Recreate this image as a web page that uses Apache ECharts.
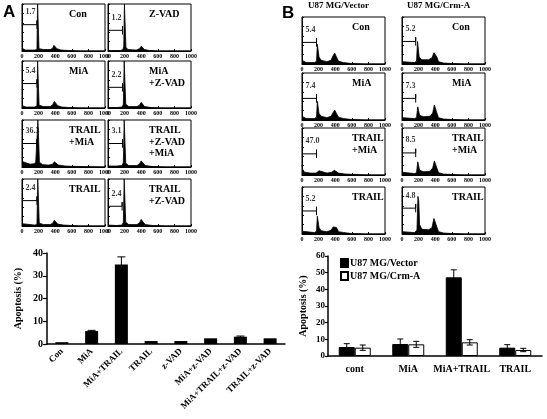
<!DOCTYPE html>
<html lang="en">
<head>
<meta charset="UTF-8">
<title>Apoptosis</title>
<style>html,body{margin:0;padding:0;background:#fff}#main{width:547px;height:419px}</style>
</head>
<body>
<div id="main"></div>
<script src="https://cdn.jsdelivr.net/npm/echarts@6/dist/echarts.min.js"></script>
<script>
// DNA histograms, panel A ([channel, relative count])
var aCon = [[0,6],[8,3],[40,2],[150,2],[180,3],[188,100],[198,100],[205,5],[260,3],[340,3],[370,6],[385,12],[400,10],[420,5],[470,2],[560,1],[700,0],[1000,0]];
var aMia = [[0,5],[10,3],[50,2],[150,2],[180,4],[188,100],[198,100],[206,6],[260,3],[340,3],[370,7],[390,14],[410,12],[430,5],[480,2],[560,1],[700,0],[1000,0]];
var aTrailMia = [[0,12],[20,8],[60,8],[100,6],[140,7],[165,9],[175,6],[185,8],[192,100],[202,100],[210,10],[250,5],[320,4],[370,6],[390,11],[410,9],[440,4],[520,2],[650,1],[1000,0]];
var aTrail = [[0,5],[20,2],[150,2],[180,3],[190,100],[200,100],[208,6],[260,3],[340,3],[370,6],[390,12],[410,10],[430,4],[500,2],[600,1],[700,0],[1000,0]];
var aZvad = [[0,1],[40,1],[150,1],[180,3],[190,10],[198,100],[210,100],[216,8],[240,3],[340,2],[380,5],[400,10],[420,8],[440,3],[500,1],[600,0],[1000,0]];
var aMiaZvad = [[0,1],[100,1],[170,2],[185,8],[195,100],[207,100],[214,8],[250,3],[350,3],[380,6],[400,12],[420,8],[440,3],[520,1],[650,0],[1000,0]];
var aTrailZvadMia = [[0,2],[100,2],[170,3],[185,10],[195,100],[207,100],[214,8],[250,3],[350,3],[380,7],[400,13],[420,9],[450,3],[540,1],[700,0],[1000,0]];
var aTrailZvad = [[0,2],[100,1],[170,2],[185,8],[195,100],[207,100],[214,8],[250,3],[350,3],[380,7],[400,14],[420,9],[450,3],[540,1],[700,0],[1000,0]];

// DNA histograms, panel B
var bVecCon = [[0,8],[10,4],[50,3],[150,3],[175,6],[185,42],[195,40],[205,15],[230,8],[300,5],[350,8],[375,18],[395,23],[415,15],[440,6],[500,3],[600,1],[750,0],[1000,0]];
var bVecMia = [[0,8],[10,4],[50,3],[150,3],[175,6],[185,40],[195,38],[205,14],[230,8],[300,5],[350,8],[375,16],[395,21],[415,14],[440,6],[500,3],[600,1],[750,0],[1000,0]];
var bVecTrailMia = [[0,22],[8,12],[30,6],[100,4],[170,4],[190,8],[205,9],[225,5],[300,4],[360,6],[390,10],[410,9],[440,4],[520,2],[650,1],[800,0],[1000,0]];
var bVecTrail = [[0,6],[10,3],[150,3],[175,6],[185,38],[195,35],[205,14],[230,7],[300,5],[350,8],[375,15],[395,19],[415,14],[440,5],[500,3],[600,1],[750,0],[1000,0]];
var bCrmCon = [[0,5],[10,3],[150,3],[175,6],[187,48],[197,45],[207,15],[240,9],[320,9],[360,13],[385,24],[400,26],[420,15],[440,5],[500,2],[600,1],[750,0],[1000,0]];
var bCrmMia = [[0,5],[10,3],[150,3],[175,5],[190,28],[200,26],[212,10],[260,7],[340,8],[370,15],[390,32],[405,33],[420,15],[440,5],[500,2],[600,1],[750,0],[1000,0]];
var bCrmTrailMia = [[0,6],[10,4],[150,3],[175,5],[190,28],[200,26],[212,10],[260,7],[340,8],[370,15],[390,30],[405,31],[420,15],[440,5],[500,2],[600,1],[750,0],[1000,0]];
var bCrmTrail = [[0,5],[10,3],[150,3],[180,8],[192,80],[202,70],[212,20],[240,10],[320,9],[360,13],[385,33],[400,35],[420,15],[440,5],[500,2],[600,1],[750,0],[1000,0]];

// panel order: column by column, top to bottom
var histA = [aCon, aMia, aTrailMia, aTrail, aZvad, aMiaZvad, aTrailZvadMia, aTrailZvad];
var gateNumA = ['1.7', '5.4', '36.3', '2.4', '1.2', '2.2', '3.1', '2.4'];
var gateHA = [56, 52, 50, 54, 44, 44, 50, 42];
var gateEndA = [180, 180, 180, 180, 175, 175, 175, 170];
var labelA = ['Con', 'MiA', 'TRAIL\n+MiA', 'TRAIL', 'Z-VAD', 'MiA\n+Z-VAD', 'TRAIL\n+Z-VAD\n+MiA', 'TRAIL\n+Z-VAD'];

var histB = [bVecCon, bVecMia, bVecTrailMia, bVecTrail, bCrmCon, bCrmMia, bCrmTrailMia, bCrmTrail];
var gateNumB = ['5.4', '7.4', '47.0', '5.2', '5.2', '7.3', '8.5', '4.8'];
var gateHB = [46, 46, 45, 49, 48, 46, 47, 55];
var gateEndB = [175, 175, 175, 175, 165, 165, 165, 165];
var labelB = ['Con', 'MiA', 'TRAIL\n+MiA', 'TRAIL', 'Con', 'MiA', 'TRAIL\n+MiA', 'TRAIL'];
var headB = ['U87 MG/Vector', 'U87 MG/Crm-A'];

// bar chart A
var catsA = ['Con', 'MiA', 'MiA+TRAIL', 'TRAIL', 'z-VAD', 'MiA+z-VAD', 'MiA+TRAIL+z-VAD', 'TRAIL+z-VAD'];
var valsA = [0.8, 5.7, 35.0, 1.3, 1.3, 2.5, 3.2, 2.5];
var errA = [0, 0.3, 3.3, 0, 0, 0, 0.3, 0];
var ticksA = [0, 10, 20, 30, 40];

// bar chart B
var catsB = ['cont', 'MiA', 'MiA+TRAIL', 'TRAIL'];
var vecVals = [5.4, 7.2, 47.2, 5.0];
var vecErr = [2.0, 3.0, 4.5, 1.8];
var crmVals = [5.0, 7.0, 8.2, 3.6];
var crmErr = [1.6, 1.8, 1.6, 1.0];
var ticksB = [0, 10, 20, 30, 40, 50, 60];

var SERIF = '"Liberation Serif", "DejaVu Serif", serif';
var chart = echarts.init(document.getElementById('main'));

var grids = [], xAxes = [], yAxes = [], series = [], graphics = [];
var W = 83, H = 47;

function addHist(left, top, data, gx, gh, num, txt, txtLeft) {
    var i = grids.length;
    grids.push({left: left, top: top, width: W, height: H, show: true, borderColor: '#000', borderWidth: 1});
    xAxes.push({
        gridIndex: i, type: 'value', min: 0, max: 1000, interval: 200,
        axisLine: {lineStyle: {color: '#000', width: 1}},
        axisTick: {inside: true, length: 2, lineStyle: {color: '#000'}},
        axisLabel: {fontSize: 6, margin: 2, color: '#000', fontFamily: SERIF, fontWeight: 'bold',
            formatter: function (v) { return String(v); }},
        splitLine: {show: false}
    });
    yAxes.push({
        gridIndex: i, type: 'value', min: 0, max: 100, interval: 20,
        axisLine: {show: true, lineStyle: {color: '#000', width: 1}},
        axisTick: {show: true, inside: true, length: 2, lineStyle: {color: '#000'}},
        axisLabel: {show: false}, splitLine: {show: false}
    });
    series.push({
        type: 'line', xAxisIndex: i, yAxisIndex: i, data: data, symbol: 'none',
        lineStyle: {color: '#000', width: 0.8}, areaStyle: {color: '#000', opacity: 1}
    });
    series.push({
        type: 'line', xAxisIndex: i, yAxisIndex: i, symbol: 'none',
        data: [[0, gh], [gx, gh], [gx, gh + 9], [gx, gh - 9]],
        lineStyle: {color: '#000', width: 1}
    });
    series.push({
        type: 'scatter', xAxisIndex: i, yAxisIndex: i, data: [[0, gh]], symbolSize: 1,
        itemStyle: {color: 'rgba(0,0,0,0)'},
        label: {show: true, formatter: num, position: [4, -16], fontSize: 8, fontFamily: SERIF, fontWeight: 'bold', color: '#000'}
    });
    graphics.push({
        type: 'text', x: left + txtLeft, y: top + 5,
        style: {text: txt, font: 'bold 10px ' + SERIF, fill: '#000', lineHeight: 11.5}
    });
}

var aColLeft = [22, 108], aRowTop = [4, 61, 120, 179], aTxt = [47, 41];
var bColLeft = [302, 402], bRowTop = [17, 73, 128, 187], bTxt = [50, 50];
for (var k = 0; k < 8; k++) {
    var c = Math.floor(k / 4), r = k % 4;
    addHist(aColLeft[c], aRowTop[r], histA[k], gateEndA[k], gateHA[k], gateNumA[k], labelA[k], aTxt[c]);
}
for (var k = 0; k < 8; k++) {
    var c = Math.floor(k / 4), r = k % 4;
    addHist(bColLeft[c], bRowTop[r], histB[k], gateEndB[k], gateHB[k], gateNumB[k], labelB[k], bTxt[c]);
}

function errBar(offset, w) {
    return function (params, api) {
        var cx = api.coord([api.value(0), 0])[0] + offset;
        var lo = api.coord([api.value(0), api.value(1)])[1];
        var hi = api.coord([api.value(0), api.value(2)])[1];
        if (api.value(2) - api.value(1) < 0.01) return null;
        var st = {stroke: '#000', lineWidth: 1};
        return {type: 'group', children: [
            {type: 'line', shape: {x1: cx, y1: lo, x2: cx, y2: hi}, style: st},
            {type: 'line', shape: {x1: cx - w, y1: hi, x2: cx + w, y2: hi}, style: st},
            {type: 'line', shape: {x1: cx - w, y1: lo, x2: cx + w, y2: lo}, style: st}
        ]};
    };
}

// bar chart A
var gA = grids.length;
grids.push({left: 47, top: 253, width: 238, height: 91});
xAxes.push({
    gridIndex: gA, type: 'category', data: catsA,
    axisLine: {lineStyle: {color: '#000', width: 1.5}},
    axisTick: {inside: true, length: 3, lineStyle: {color: '#000', width: 1.2}},
    axisLabel: {rotate: 45, interval: 0, fontSize: 9, margin: 6, color: '#000', fontFamily: SERIF, fontWeight: 'bold'}
});
yAxes.push({
    gridIndex: gA, type: 'value', min: ticksA[0], max: ticksA[ticksA.length - 1], interval: 10,
    name: 'Apoptosis (%)', nameLocation: 'middle', nameGap: 24, nameRotate: 90,
    nameTextStyle: {fontSize: 10, fontFamily: SERIF, fontWeight: 'bold', color: '#000'},
    axisLine: {show: true, lineStyle: {color: '#000', width: 1.5}},
    axisTick: {show: true, length: 4, lineStyle: {color: '#000', width: 1.2}},
    axisLabel: {fontSize: 10, margin: 4, color: '#000', fontFamily: SERIF, fontWeight: 'bold'},
    splitLine: {show: false}
});
series.push({type: 'bar', xAxisIndex: gA, yAxisIndex: gA, data: valsA, barWidth: 13, itemStyle: {color: '#000'}});
series.push({
    type: 'custom', xAxisIndex: gA, yAxisIndex: gA, z: 5, renderItem: errBar(0, 4),
    encode: {x: 0, y: [1, 2]},
    data: valsA.map(function (v, i) { return [i, v - errA[i], v + errA[i]]; })
});

// bar chart B
var gB = grids.length;
grids.push({left: 328, top: 256, width: 214, height: 100});
xAxes.push({
    gridIndex: gB, type: 'category', data: catsB,
    axisLine: {lineStyle: {color: '#000', width: 1.5}},
    axisTick: {inside: true, length: 2, lineStyle: {color: '#000', width: 1.2}},
    axisLabel: {interval: 0, fontSize: 10, margin: 8, color: '#000', fontFamily: SERIF, fontWeight: 'bold'}
});
yAxes.push({
    gridIndex: gB, type: 'value', min: ticksB[0], max: ticksB[ticksB.length - 1], interval: 10,
    name: 'Apoptosis (%)', nameLocation: 'middle', nameGap: 20, nameRotate: 90,
    nameTextStyle: {fontSize: 10, fontFamily: SERIF, fontWeight: 'bold', color: '#000'},
    axisLine: {show: true, lineStyle: {color: '#000', width: 1.5}},
    axisTick: {show: true, length: 3, lineStyle: {color: '#000', width: 1.2}},
    axisLabel: {fontSize: 9, margin: 3, color: '#000', fontFamily: SERIF, fontWeight: 'bold'},
    splitLine: {show: false}
});
series.push({type: 'bar', name: 'U87 MG/Vector', xAxisIndex: gB, yAxisIndex: gB, data: vecVals, barWidth: 16, barGap: '0%', itemStyle: {color: '#000', borderColor: '#000', borderWidth: 1}});
series.push({type: 'bar', name: 'U87 MG/Crm-A', xAxisIndex: gB, yAxisIndex: gB, data: crmVals, barWidth: 16, barGap: '0%', itemStyle: {color: '#fff', borderColor: '#000', borderWidth: 1}});
series.push({
    type: 'custom', xAxisIndex: gB, yAxisIndex: gB, z: 5, renderItem: errBar(-8, 3),
    encode: {x: 0, y: [1, 2]},
    data: vecVals.map(function (v, i) { return [i, v - vecErr[i], v + vecErr[i]]; })
});
series.push({
    type: 'custom', xAxisIndex: gB, yAxisIndex: gB, z: 5, renderItem: errBar(8, 3),
    encode: {x: 0, y: [1, 2]},
    data: crmVals.map(function (v, i) { return [i, v - crmErr[i], v + crmErr[i]]; })
});

graphics.push({type: 'text', x: 3, y: 4, style: {text: 'A', font: 'bold 17px "Liberation Sans", Arial, sans-serif', fill: '#000'}});
graphics.push({type: 'text', x: 282, y: 5, style: {text: 'B', font: 'bold 17px "Liberation Sans", Arial, sans-serif', fill: '#000'}});
graphics.push({type: 'text', x: 308, y: 1, style: {text: headB[0], font: 'bold 9px ' + SERIF, fill: '#000'}});
graphics.push({type: 'text', x: 407, y: 1, style: {text: headB[1], font: 'bold 9px ' + SERIF, fill: '#000'}});

chart.setOption({
    animation: false,
    grid: grids,
    xAxis: xAxes,
    yAxis: yAxes,
    legend: {
        data: ['U87 MG/Vector', 'U87 MG/Crm-A'], orient: 'vertical', left: 340, top: 258,
        itemWidth: 7, itemHeight: 8, itemGap: 3, padding: 0, icon: 'rect',
        textStyle: {fontSize: 10, fontFamily: SERIF, fontWeight: 'bold', color: '#000', padding: [0, 0, 0, -3]}
    },
    graphic: graphics,
    series: series
});
</script>
</body>
</html>
